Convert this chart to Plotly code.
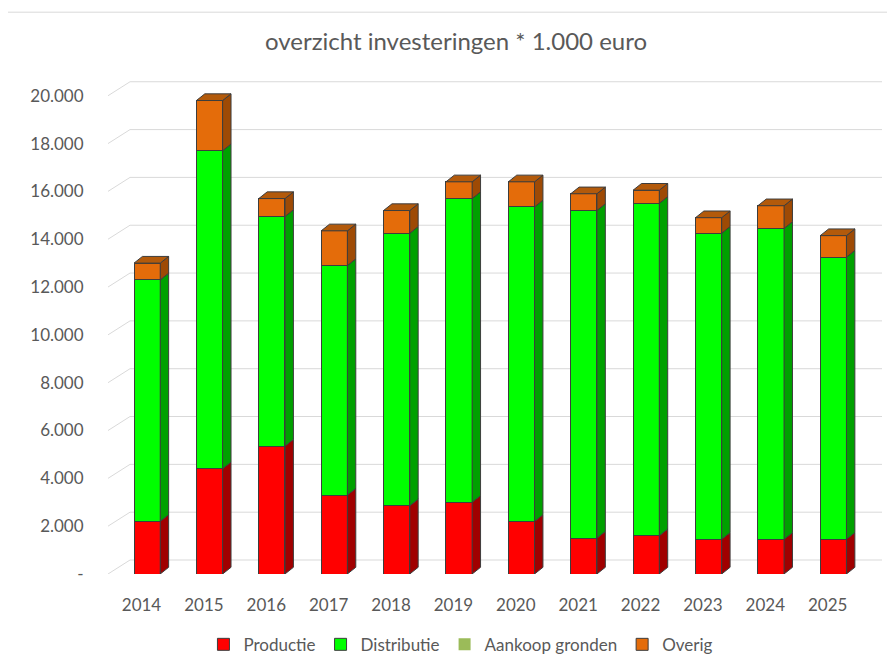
import plotly.graph_objects as go

# ---- data (values in * 1.000 euro) ----
years = ["2014", "2015", "2016", "2017", "2018", "2019", "2020", "2021", "2022", "2023", "2024", "2025"]
productie = [2200, 4400, 5350, 3300, 2850, 3000, 2200, 1500, 1600, 1450, 1450, 1450]
distributie = [10100, 13300, 9600, 9600, 11400, 12700, 13150, 13700, 13900, 12800, 13000, 11800]
aankoop_gronden = [0, 0, 0, 0, 0, 0, 0, 0, 0, 0, 0, 0]
overig = [700, 2100, 750, 1450, 950, 700, 1050, 700, 550, 650, 950, 900]
y_ticks = [0, 2000, 4000, 6000, 8000, 10000, 12000, 14000, 16000, 18000, 20000]
y_ticktext = ["-" if v == 0 else f"{v:,}".replace(",", ".") for v in y_ticks]

# ---- style ----
FONT = "Lato"
GREY = "#595959"
W = 0.42        # bar front width (category units)
SHIFT = 0.09    # front face sits slightly right of label (3D perspective)
DX = 0.135      # depth offset x (category units)
DY = 280        # depth offset y (value units)
GDX = 0.353     # floor depth for gridlines
GDY = 585
X0, X1 = -0.537, 11.87
Y0, Y1 = 0, 20700
EDGE = "#3d3d3d"

series = [
    ("Productie", productie, "#FF0000", "#A00000", None),
    ("Distributie", distributie, "#00FF00", "#00A000", None),
    ("Aankoop gronden", aankoop_gronden, "#9BBB59", "#6E8A3A", None),
    ("Overig", overig, "#E46C0A", "#9E4A05", "#B35A0B"),
]

xs = list(range(len(years)))
fig = go.Figure()

# front faces as stacked bars
for name, vals, front, side, top in series:
    has_line = any(v > 0 for v in vals)
    fig.add_trace(go.Bar(
        x=xs, y=vals, name=name, width=W, offset=-W / 2 + SHIFT,
        marker=dict(color=front, line=dict(color=EDGE, width=1 if has_line else 0)),
        legendgroup=name, hoverinfo="skip",
    ))

# side faces (and top face of the stack) as filled polygons computed from data
base = [0] * len(xs)
totals = [sum(s[1][i] for s in series) for i in xs]
for name, vals, front, side, top in series:
    px, py = [], []
    for i in xs:
        v = vals[i]
        if v <= 0:
            continue
        c = i + SHIFT
        y0, y1 = base[i], base[i] + v
        xr = c + W / 2
        px += [xr, xr + DX, xr + DX, xr, xr, None]
        py += [y0, y0 + DY, y1 + DY, y1, y0, None]
    if px:
        fig.add_trace(go.Scatter(
            x=px, y=py, mode="lines", fill="toself", fillcolor=side,
            line=dict(color=EDGE, width=1), showlegend=False, hoverinfo="skip",
        ))
    base = [base[i] + vals[i] for i in xs]

top_color = series[-1][4]
tx, ty = [], []
for i in xs:
    c = i + SHIFT
    t = totals[i]
    tx += [c - W / 2, c + W / 2, c + W / 2 + DX, c - W / 2 + DX, c - W / 2, None]
    ty += [t, t, t + DY, t + DY, t, None]
fig.add_trace(go.Scatter(
    x=tx, y=ty, mode="lines", fill="toself", fillcolor=top_color,
    line=dict(color=EDGE, width=1), showlegend=False, hoverinfo="skip",
))

# 3D-style gridlines: floor diagonal + back wall
shapes = []
for v in y_ticks:
    shapes.append(dict(type="line", xref="x", yref="y", x0=X0, y0=v, x1=X0 + GDX, y1=v + GDY,
                       line=dict(color="#d9d9d9", width=1), layer="below"))
    shapes.append(dict(type="line", xref="x", yref="y", x0=X0 + GDX, y0=v + GDY, x1=X1, y1=v + GDY,
                       line=dict(color="#d9d9d9", width=1), layer="below"))
# chart border
shapes.append(dict(type="rect", xref="paper", yref="paper", x0=-0.133, y0=-0.3, x1=1.2, y1=1.135,
                   line=dict(color="#d9d9d9", width=1), layer="below"))

fig.update_layout(
    width=895, height=659,
    margin=dict(l=100, r=21, t=71, b=93, autoexpand=False),
    paper_bgcolor="white", plot_bgcolor="white",
    barmode="stack",
    font=dict(family=FONT, color=GREY, size=17),
    title=dict(text="overzicht investeringen * 1.000 euro", x=448 / 895, xanchor="center",
               y=1 - 34 / 659, yanchor="middle", font=dict(size=24, color=GREY, family=FONT)),
    xaxis=dict(range=[X0, X1], tickvals=xs, ticktext=years, showgrid=False, zeroline=False,
               showline=False, ticks="outside", ticklen=16, tickcolor="rgba(0,0,0,0)",
               tickfont=dict(size=17, color=GREY), automargin=False),
    yaxis=dict(range=[Y0, Y1], tickvals=y_ticks, ticktext=y_ticktext, showgrid=False,
               zeroline=False, showline=False, ticks="outside", ticklen=20,
               tickcolor="rgba(0,0,0,0)", tickfont=dict(size=17, color=GREY), automargin=False),
    legend=dict(orientation="h", x=0.456, xanchor="center", y=-0.143, yanchor="middle",
                traceorder="normal", font=dict(size=17, color=GREY)),
    shapes=shapes,
    showlegend=True,
)

fig.write_html("out.html")
